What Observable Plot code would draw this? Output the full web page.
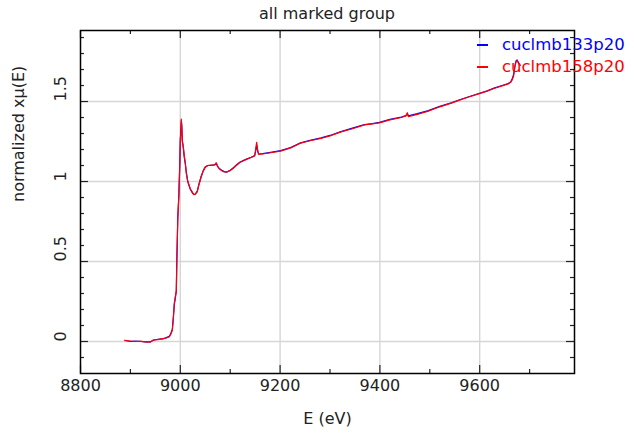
<!DOCTYPE html>
<html><head><meta charset="utf-8">
<script src="https://cdn.jsdelivr.net/npm/d3@7"></script>
<script src="https://cdn.jsdelivr.net/npm/@observablehq/plot@0.6"></script>
<style>
body{margin:0;background:#fff;font-family:"DejaVu Sans",sans-serif;}
#wrap{position:relative;width:634px;height:436px;}
#title{width:494px;margin-left:80px;height:28px;line-height:28px;text-align:center;font-size:16px;color:#222;}
#legend{position:absolute;left:477px;top:34px;font-family:"DejaVu Sans",sans-serif;font-size:16.5px;}
#legend .row{display:flex;align-items:center;height:22px;line-height:22px;white-space:nowrap;}
#legend .sw{display:inline-block;width:11px;height:1.5px;margin-right:14px;}
</style></head><body>
<div id="wrap">
<div id="title">all marked group</div>
<div id="chart"></div>
<div id="legend"></div>
</div>
<script>
const energy = [8889,8900,8910,8920,8930,8940,8946,8955,8965,8972,8978,8981,8984,8986,8988,8990,8992,8993,8995,8997,8999,9000,9001,9002,9003,9004,9006,9008,9010,9012,9015,9018,9020,9024,9027,9030,9034,9037,9042,9046,9050,9055,9060,9067,9070,9072,9075,9078,9083,9088,9093,9100,9107,9114,9120,9127,9134,9142,9149,9151,9153,9155,9157,9165,9181,9201,9221,9241,9260,9282,9300,9322,9345,9369,9385,9399,9420,9443,9452,9455,9457,9475,9497,9520,9543,9557,9575,9598,9615,9630,9645,9657,9662,9665,9668,9671,9673,9675,9677,9679,9681];
const mu133 = [0.008,0.0,0.002,0.0,-0.002,-0.002,0.008,0.014,0.016,0.024,0.032,0.05,0.075,0.15,0.23,0.27,0.32,0.5,0.78,0.91,1.12,1.27,1.32,1.38,1.35,1.26,1.21,1.15,1.11,1.06,1.0,0.97,0.952,0.93,0.92,0.922,0.94,0.98,1.035,1.068,1.09,1.1,1.1,1.104,1.106,1.112,1.093,1.082,1.07,1.062,1.058,1.07,1.088,1.108,1.122,1.132,1.142,1.152,1.162,1.19,1.23,1.19,1.172,1.174,1.182,1.193,1.212,1.242,1.257,1.273,1.288,1.312,1.334,1.356,1.362,1.37,1.388,1.403,1.412,1.425,1.41,1.424,1.443,1.47,1.492,1.508,1.527,1.55,1.567,1.585,1.6,1.612,1.622,1.64,1.67,1.73,1.755,1.76,1.748,1.737,1.728];
const mu158 = [0.005,0.003,0.0,0.002,-0.003,-0.004,0.01,0.012,0.018,0.022,0.03,0.045,0.07,0.14,0.24,0.28,0.31,0.49,0.77,0.9,1.1,1.25,1.3,1.39,1.34,1.25,1.22,1.16,1.12,1.05,1.0,0.975,0.955,0.935,0.918,0.92,0.935,0.975,1.03,1.065,1.09,1.1,1.103,1.102,1.108,1.118,1.095,1.08,1.068,1.06,1.06,1.068,1.085,1.105,1.12,1.13,1.14,1.15,1.16,1.2,1.245,1.2,1.17,1.172,1.18,1.19,1.21,1.24,1.255,1.27,1.285,1.31,1.33,1.354,1.36,1.367,1.385,1.4,1.41,1.43,1.406,1.42,1.44,1.467,1.49,1.506,1.525,1.548,1.565,1.583,1.598,1.61,1.62,1.635,1.66,1.725,1.75,1.756,1.745,1.735,1.725];
const seriesNames = ["cuclmb133p20","cuclmb158p20"];
const seriesColors = ["#0000ff","#ff0000"];
const xTicks = [8800,9000,9200,9400,9600];
const xMinorTicks = [8900,9100,9300,9500,9700];
const yTicks = [0,0.5,1,1.5];
const yMinorTicks = [-0.1,0.1,0.2,0.3,0.4,0.6,0.7,0.8,0.9,1.1,1.2,1.3,1.4,1.6,1.7,1.8,1.9];
const xLabel = "E (eV)";
const yLabel = "normalized xμ(E)";

const series = [mu133, mu158];
const rows = [];
series.forEach((vals, s) => energy.forEach((e, i) => rows.push({E: e, mu: vals[i], s: seriesNames[s]})));

const W = 634, H = 408, mT = 2, mB = 63, mL = 80, mR = 60;
const fh = H - mT - mB, fw = W - mL - mR;
const ink = "#222";

const marks = [
  Plot.gridX(xTicks.filter(d => d > 8800), {stroke: "#d6d6d6", strokeOpacity: 1, strokeWidth: 1.4}),
  Plot.gridY(yTicks, {stroke: "#d6d6d6", strokeOpacity: 1, strokeWidth: 1.4}),
  Plot.line(rows, {x: "E", y: "mu", z: "s", stroke: "s", strokeWidth: 1.2}),
  // inward ticks
  Plot.ruleX(xTicks, {x: d => d, insetTop: fh - 8, stroke: ink, strokeWidth: 1.2}),
  Plot.ruleX(xTicks, {x: d => d, insetBottom: fh - 8, stroke: ink, strokeWidth: 1.2}),
  Plot.ruleX(xMinorTicks, {x: d => d, insetTop: fh - 4, stroke: ink, strokeWidth: 1.2}),
  Plot.ruleX(xMinorTicks, {x: d => d, insetBottom: fh - 4, stroke: ink, strokeWidth: 1.2}),
  Plot.ruleY(yTicks, {y: d => d, insetRight: fw - 8, stroke: ink, strokeWidth: 1.2}),
  Plot.ruleY(yTicks, {y: d => d, insetLeft: fw - 8, stroke: ink, strokeWidth: 1.2}),
  Plot.ruleY(yMinorTicks, {y: d => d, insetRight: fw - 4, stroke: ink, strokeWidth: 1.2}),
  Plot.ruleY(yMinorTicks, {y: d => d, insetLeft: fw - 4, stroke: ink, strokeWidth: 1.2}),
  Plot.frame({stroke: "#000", strokeWidth: 1.5}),
  // tick labels
  Plot.text(xTicks, {x: d => d, frameAnchor: "bottom", dy: 17, text: d => String(d), fill: ink, fontSize: 16}),
  Plot.text(yTicks, {y: d => d, frameAnchor: "left", dx: -20, rotate: -90, text: d => String(d), fill: ink, fontSize: 16}),
  // axis labels
  Plot.text([xLabel], {frameAnchor: "bottom", dy: 50, fill: ink, fontSize: 16}),
  Plot.text([yLabel], {frameAnchor: "left", dx: -62, rotate: -90, fill: ink, fontSize: 16})
];

const chart = Plot.plot({
  width: W, height: H, marginTop: mT, marginBottom: mB, marginLeft: mL, marginRight: mR,
  style: {fontFamily: "DejaVu Sans", fontSize: "16px", color: ink, background: "#fff", overflow: "visible"},
  x: {domain: [8800, 9790], axis: null},
  y: {domain: [-0.2, 1.944], axis: null},
  color: {domain: seriesNames, range: seriesColors},
  marks
});
document.getElementById("chart").appendChild(chart);

const legend = document.getElementById("legend");
seriesNames.forEach((name, i) => {
  const row = document.createElement("div");
  row.className = "row";
  row.style.color = seriesColors[i];
  const sw = document.createElement("span");
  sw.className = "sw";
  sw.style.background = seriesColors[i];
  row.appendChild(sw);
  row.appendChild(document.createTextNode(name));
  legend.appendChild(row);
});
</script>
</body></html>
